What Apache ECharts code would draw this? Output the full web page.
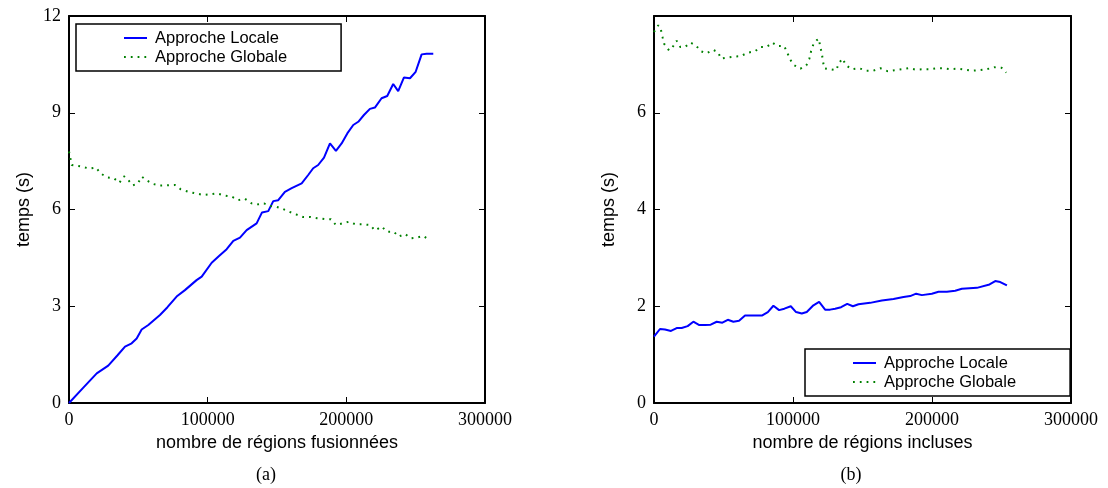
<!DOCTYPE html>
<html>
<head>
<meta charset="utf-8">
<script src="https://cdn.jsdelivr.net/npm/echarts@6/dist/echarts.min.js"></script>
<style>html,body{margin:0;padding:0;background:#fff}#c{width:1108px;height:488px}</style>
</head>
<body>
<div id="c"></div>
<script>
// ---- data ----
const seriesNames = ['Approche Locale', 'Approche Globale'];
const xTicksLabelA = 'nombre de régions fusionnées';
const xTicksLabelB = 'nombre de régions incluses';
const yLabel = 'temps (s)';
const captions = ['(a)', '(b)'];

// (a) Approche Locale
const aLocX = [0,10000,20000,28300,35000,40400,45200,48800,52400,57200,65600,71000,77600,83600,92000,95700,102900,108000,113700,118500,123300,128100,135300,139200,143700,147300,150900,155700,160600,167800,172500,176100,179700,183900,188200,192500,196600,200700,205000,208600,212700,217000,220600,225400,229500,233800,237400,241500,245900,250000,254300,257900,262700];
const aLocY = [0,0.46,0.92,1.16,1.48,1.75,1.85,2.0,2.28,2.42,2.73,2.97,3.30,3.50,3.81,3.92,4.35,4.55,4.77,5.03,5.13,5.36,5.57,5.91,5.95,6.26,6.29,6.55,6.66,6.81,7.07,7.28,7.38,7.61,8.05,7.82,8.05,8.36,8.62,8.72,8.93,9.12,9.16,9.45,9.52,9.89,9.67,10.09,10.07,10.27,10.81,10.83,10.83];
// (a) Approche Globale
const aGloX = [0,2000,9100,14600,19500,22800,27200,32400,36300,39700,42800,45900,49500,52400,56500,60800,65600,71600,76400,80500,86000,91300,96800,101700,106500,112500,117300,122100,126900,131700,136500,140600,144900,149200,154100,158800,163700,168500,173800,179000,184600,188900,192500,197300,201900,206700,211700,217000,220800,225400,229500,234300,237700,242300,246600,251100,255500,260300];
const aGloY = [7.8,7.38,7.33,7.27,7.30,7.12,7.00,6.97,6.83,7.03,6.91,6.75,6.80,7.02,6.89,6.79,6.74,6.75,6.76,6.63,6.55,6.50,6.45,6.47,6.50,6.43,6.40,6.29,6.33,6.19,6.16,6.19,6.11,6.09,6.02,5.93,5.85,5.77,5.77,5.73,5.70,5.70,5.52,5.57,5.62,5.54,5.54,5.52,5.35,5.47,5.31,5.31,5.16,5.24,5.11,5.13,5.18,5.05];
// (b) Approche Locale
const bLocX = [0,4300,7900,12200,16300,19900,24200,28300,32600,36700,40800,45100,49200,53100,57100,61200,65500,69600,73900,77900,81900,85900,90000,93800,98400,102200,106300,109900,114700,118800,123100,126700,130300,134600,139000,143100,147100,155500,163900,172300,179500,184300,188600,192700,199900,204700,210700,216700,221500,232300,241400,245500,249100,253900];
const bLocY = [1.37,1.53,1.52,1.49,1.55,1.55,1.59,1.68,1.61,1.61,1.62,1.68,1.66,1.72,1.68,1.70,1.81,1.81,1.81,1.81,1.88,2.01,1.92,1.95,2.00,1.88,1.85,1.88,2.02,2.09,1.93,1.93,1.95,1.98,2.05,2.00,2.04,2.07,2.12,2.15,2.19,2.21,2.26,2.23,2.26,2.30,2.30,2.32,2.36,2.38,2.45,2.52,2.50,2.43];
// (b) Approche Globale
const bGloX = [0,3100,5000,6200,7400,10800,13400,16300,18900,22300,26200,30200,33800,37900,42500,46100,48200,52300,57100,62400,67200,72700,76600,81100,85200,88800,93600,95800,97900,101000,105300,109600,111800,113000,114700,117100,118600,119500,120700,121500,122400,126200,131000,133200,135600,138200,142500,147600,152900,157900,162900,168000,173000,178300,183400,188600,193700,198700,203000,208100,213100,218400,223900,229200,234500,239500,244800,250000,253400];
const bGloY = [7.67,7.81,7.71,7.56,7.42,7.29,7.36,7.49,7.36,7.36,7.45,7.39,7.27,7.23,7.30,7.25,7.12,7.14,7.16,7.17,7.24,7.27,7.36,7.36,7.45,7.38,7.38,7.25,7.10,6.98,6.91,6.98,7.12,7.27,7.42,7.50,7.53,7.38,7.23,7.08,6.92,6.90,6.88,7.03,7.12,6.98,6.90,6.92,6.87,6.87,6.92,6.86,6.88,6.90,6.92,6.89,6.90,6.90,6.92,6.92,6.90,6.91,6.89,6.87,6.88,6.90,6.94,6.93,6.83];

// axis ranges
const xMin = 0, xMax = 300000, xStep = 100000;
const aYMax = 12, aYStep = 3;
const bYMax = 8, bYStep = 2;

// ---- build ----
const zip = (xs, ys) => xs.map((x, i) => [x, ys[i]]);
const SERIF = '"Liberation Serif", "DejaVu Serif", serif';
const SANS = '"Liberation Sans", Arial, sans-serif';
const BLUE = '#0000ff', GREEN = '#008000';

function xAx(grid, pos, name) {
  return {
    type: 'value', gridIndex: grid, position: pos, min: xMin, max: xMax, interval: xStep,
    name: name || '', nameLocation: 'middle', nameGap: 25,
    nameTextStyle: { fontFamily: SANS, fontSize: 18, color: '#000' },
    axisLine: { show: true, onZero: false, lineStyle: { color: '#000', width: 2 } },
    axisTick: { show: true, inside: true, length: 6, lineStyle: { color: '#000', width: 1 } },
    axisLabel: { show: pos === 'bottom', fontFamily: SERIF, fontSize: 18, color: '#000', margin: 8,
                 formatter: v => String(v) },
    splitLine: { show: false }
  };
}
function yAx(grid, pos, max, step, name) {
  return {
    type: 'value', gridIndex: grid, position: pos, min: 0, max: max, interval: step,
    name: name || '', nameLocation: 'middle', nameGap: 36, nameRotate: 90,
    nameTextStyle: { fontFamily: SANS, fontSize: 18, color: '#000' },
    axisLine: { show: true, onZero: false, lineStyle: { color: '#000', width: 2 } },
    axisTick: { show: true, inside: true, length: 6, lineStyle: { color: '#000', width: 1 } },
    axisLabel: { show: pos === 'left', fontFamily: SERIF, fontSize: 18, color: '#000', margin: 8,
                 showMaxLabel: max === aYMax, formatter: v => String(v) },
    splitLine: { show: false }
  };
}
function legendAt(left, top) {
  return {
    orient: 'vertical', left: left, top: top,
    data: seriesNames,
    backgroundColor: '#fff', borderColor: '#000', borderWidth: 1.5, borderRadius: 0,
    padding: [5, 54, 5, 47], itemGap: 1, itemWidth: 23, itemHeight: 12,
    itemStyle: { opacity: 0 },
    textStyle: { fontFamily: SANS, fontSize: 16.5, color: '#000', lineHeight: 18, padding: [0, 0, 0, 3] },
    selectedMode: false
  };
}
function lineSeries(name, xi, yi, data, color, dotted) {
  return {
    type: 'line', name: name, xAxisIndex: xi, yAxisIndex: yi, data: data,
    symbol: 'none', showSymbol: false, animation: false,
    lineStyle: dotted ? { color: color, width: 2, type: [1.8, 5], cap: 'butt' } : { color: color, width: 2 },
    itemStyle: { color: color }
  };
}

const option = {
  backgroundColor: '#fff',
  animation: false,
  grid: [
    { left: 69, top: 16, width: 416, height: 387 },
    { left: 654, top: 16, width: 417, height: 387 }
  ],
  xAxis: [
    xAx(0, 'bottom', xTicksLabelA), xAx(0, 'top'),
    xAx(1, 'bottom', xTicksLabelB), xAx(1, 'top')
  ],
  yAxis: [
    yAx(0, 'left', aYMax, aYStep, yLabel), yAx(0, 'right', aYMax, aYStep),
    yAx(1, 'left', bYMax, bYStep, yLabel), yAx(1, 'right', bYMax, bYStep)
  ],
  legend: [ legendAt(76, 24), legendAt(805, 349) ],
  series: [
    lineSeries(seriesNames[0], 0, 0, zip(aLocX, aLocY), BLUE, false),
    lineSeries(seriesNames[1], 0, 0, zip(aGloX, aGloY), GREEN, true),
    lineSeries(seriesNames[0], 2, 2, zip(bLocX, bLocY), BLUE, false),
    lineSeries(seriesNames[1], 2, 2, zip(bGloX, bGloY), GREEN, true)
  ],
  graphic: [
    { type: 'text', x: 266, y: 475, style: { text: captions[0], align: 'center', verticalAlign: 'middle', font: '18px ' + SERIF, fill: '#000' } },
    { type: 'text', x: 851, y: 475, style: { text: captions[1], align: 'center', verticalAlign: 'middle', font: '18px ' + SERIF, fill: '#000' } }
  ]
};
const chart = echarts.init(document.getElementById('c'), null, { renderer: 'canvas' });
chart.setOption(option);
</script>
</body>
</html>
